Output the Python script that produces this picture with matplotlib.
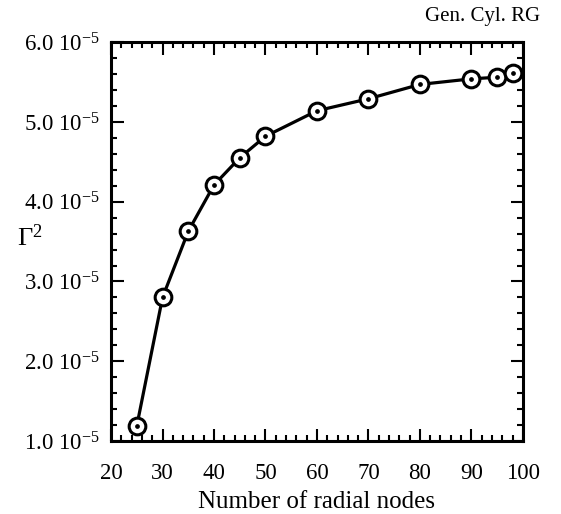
import matplotlib
matplotlib.use('Agg')
import matplotlib.pyplot as plt
from matplotlib.ticker import MultipleLocator, FixedLocator
import numpy as np

# radial nodes vs Gamma^2 (units of 1e-5)
nodes = [25, 30, 35, 40, 45, 50, 60, 70, 80, 90, 95, 98]
gamma2 = [1.19, 2.80, 3.63, 4.21, 4.55, 4.82, 5.14, 5.29, 5.47, 5.54, 5.56, 5.61]

xticks = [20, 30, 40, 50, 60, 70, 80, 90, 100]
yticks = [1.0, 2.0, 3.0, 4.0, 5.0, 6.0]
ytick_labels = ['1.0 10$^{-5}$', '2.0 10$^{-5}$', '3.0 10$^{-5}$',
                '4.0 10$^{-5}$', '5.0 10$^{-5}$', '6.0 10$^{-5}$']

plt.rcParams['font.family'] = ['Liberation Serif', 'DejaVu Serif']
plt.rcParams['mathtext.fontset'] = 'custom'
plt.rcParams['mathtext.rm'] = 'Liberation Serif'
plt.rcParams['mathtext.it'] = 'Liberation Serif:italic'

fig = plt.figure(figsize=(5.61, 5.14), dpi=100)
ax = fig.add_axes([0.198, 0.142, 0.734, 0.776])

ax.plot(nodes, gamma2, color='black', linewidth=2.3, zorder=2)
ax.plot(nodes, gamma2, linestyle='none', marker='o', markersize=12,
        markerfacecolor='white', markeredgecolor='black', markeredgewidth=2.2, zorder=3)
ax.plot(nodes, gamma2, linestyle='none', marker='o', markersize=2.4,
        color='black', zorder=4)

ax.set_xlim(20, 100)
ax.set_ylim(1.0, 6.0)
ax.xaxis.set_major_locator(FixedLocator(xticks))
ax.xaxis.set_minor_locator(MultipleLocator(2))
ax.yaxis.set_major_locator(FixedLocator(yticks))
ax.yaxis.set_minor_locator(MultipleLocator(0.2))
ax.set_yticklabels(ytick_labels)

ax.tick_params(which='both', direction='in', top=True, right=True, labelsize=16.5, width=1.5)
ax.tick_params(which='major', length=9)
ax.tick_params(axis='x', which='major', pad=16)
ax.tick_params(axis='y', which='major', pad=8)
ax.tick_params(which='minor', length=4.5)
for s in ax.spines.values():
    s.set_linewidth(2.2)

ax.set_xlabel('Number of radial nodes', fontsize=18, labelpad=5)
ax.set_ylabel('$\\mathrm{\\Gamma}^2$', fontsize=19, rotation=0, va='center', ha='left')
ax.yaxis.set_label_coords(-0.228, 0.51)
fig.text(0.963, 0.968, 'Gen. Cyl. RG', ha='right', va='center', fontsize=15)

plt.savefig('out.png', dpi=100)
